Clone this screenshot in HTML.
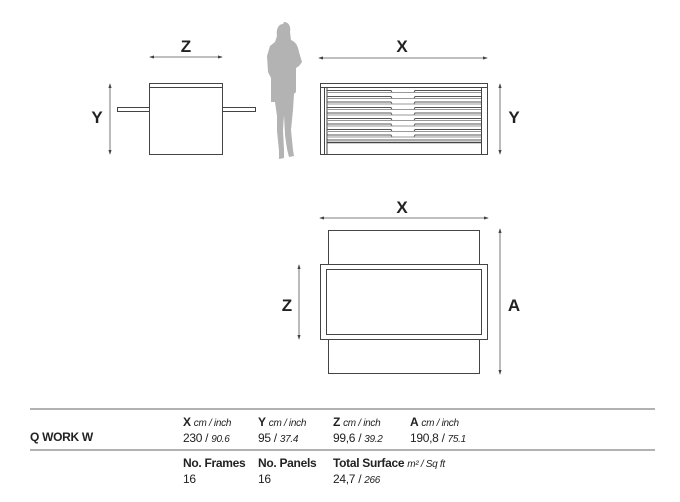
<!DOCTYPE html>
<html><head><meta charset="utf-8"><style>
body{margin:0;background:#fff;width:680px;height:502px;overflow:hidden;font-family:"Liberation Sans",sans-serif}
svg{position:absolute;left:0;top:0}
.t{position:absolute;font-size:12px;color:#222;white-space:nowrap;letter-spacing:-0.3px}
.i{font-style:italic;font-size:10px}
b{font-weight:bold}
</style></head><body>
<svg width="680" height="502" viewBox="0 0 680 502">
<defs><marker id="a" viewBox="0 0 6 4" refX="5" refY="2" markerWidth="6" markerHeight="4" orient="auto-start-reverse"><path d="M0,0L6,2L0,4z" fill="#444"/></marker></defs>
<g stroke="#555" stroke-width="0.8" fill="none">
<line x1="150" y1="57" x2="222" y2="57" marker-start="url(#a)" marker-end="url(#a)"/>
<line x1="110" y1="84" x2="110" y2="154" marker-start="url(#a)" marker-end="url(#a)"/>
<line x1="319" y1="58" x2="487" y2="58" marker-start="url(#a)" marker-end="url(#a)"/>
<line x1="500" y1="84" x2="500" y2="154" marker-start="url(#a)" marker-end="url(#a)"/>
<line x1="320" y1="218" x2="488" y2="218" marker-start="url(#a)" marker-end="url(#a)"/>
<line x1="500" y1="229" x2="500" y2="374" marker-start="url(#a)" marker-end="url(#a)"/>
<line x1="299" y1="265" x2="299" y2="339" marker-start="url(#a)" marker-end="url(#a)"/>
</g>
<g stroke="#444" stroke-width="1" fill="#fff">
<rect x="117.5" y="107.5" width="32" height="4"/>
<rect x="222.5" y="107.5" width="33" height="4"/>
<rect x="149.5" y="83.5" width="73" height="71"/>
<line x1="149.5" y1="87.5" x2="222.5" y2="87.5"/>
<rect x="320.5" y="83.5" width="167" height="71"/>
<line x1="320.5" y1="87.5" x2="487.5" y2="87.5"/>
<line x1="324.5" y1="87.5" x2="324.5" y2="154"/>
<line x1="327" y1="87.5" x2="327" y2="154"/>
<line x1="481.5" y1="87.5" x2="481.5" y2="154"/>
<line x1="327" y1="142.5" x2="481" y2="142.5" stroke-width="1.5"/>
</g>
<g stroke="#555" stroke-width="1" fill="none">
<path d="M327 90.5H391l1 2H414l1-2H481M327 96.5H391l1 2H414l1-2H481M327 102H391l1 2H414l1-2H481M327 107.5H391l1 2H414l1-2H481M327 113H391l1 2H414l1-2H481M327 118.5H391l1 2H414l1-2H481M327 124H391l1 2H414l1-2H481M327 129.5H391l1 2H414l1-2H481M327 135H391l1 2H414l1-2H481M327 140H481"/>
<path d="M327 92.5H481M327 98.5H481M327 104H481M327 109.5H481M327 115H481M327 120.5H481M327 126H481M327 131.5H481M327 137H481" stroke="#999"/>
</g>
<path fill="#b3b3b3" d="M284 22c5 0 7 5 6 10l1 8c5 2 7 6 8 12l3 10-3 4-3 2 0 24-2 2-1 16-2 20 2 20 1 6-5 1-2-8-2-14-1-20-1 15 1 20 0 8-5 1 0-8-2-20 0-15-2-14-4 0 0-24-3-6-1-16 3-10 5-4 2-6c-1-6 1-12 6-12z"/>
<g stroke="#444" stroke-width="1" fill="#fff">
<line x1="328.5" y1="230.5" x2="479.5" y2="230.5"/>
<line x1="328.5" y1="230" x2="328.5" y2="264"/>
<line x1="479.5" y1="230" x2="479.5" y2="264"/>
<line x1="328.5" y1="339" x2="328.5" y2="374"/>
<line x1="479.5" y1="339" x2="479.5" y2="374"/>
<line x1="328.5" y1="373.5" x2="479.5" y2="373.5"/>
<rect x="320.5" y="264.5" width="167" height="75"/>
<rect x="326.5" y="269.5" width="155" height="65"/>
</g>
<g stroke="#999" stroke-width="1.5">
<line x1="30" y1="409" x2="655" y2="409"/>
<line x1="30" y1="450" x2="655" y2="450"/>
</g>
<g font-family="Liberation Sans,sans-serif" font-weight="bold" font-size="17" fill="#222" text-anchor="middle">
<text x="186" y="52">Z</text><text x="402" y="52">X</text>
<text x="97" y="123">Y</text><text x="514" y="123">Y</text>
<text x="402" y="213">X</text><text x="287" y="311">Z</text><text x="514" y="311">A</text>
</g>
</svg>
<div class="t" style="left:30px;top:430px"><b>Q WORK W</b></div>
<div class="t" style="left:183px;top:415px"><b>X</b> <span class="i">cm / inch</span></div>
<div class="t" style="left:183px;top:431px">230 / <span class="i">90.6</span></div>
<div class="t" style="left:258px;top:415px"><b>Y</b> <span class="i">cm / inch</span></div>
<div class="t" style="left:258px;top:431px">95 / <span class="i">37.4</span></div>
<div class="t" style="left:333px;top:415px"><b>Z</b> <span class="i">cm / inch</span></div>
<div class="t" style="left:333px;top:431px">99,6 / <span class="i">39.2</span></div>
<div class="t" style="left:410px;top:415px"><b>A</b> <span class="i">cm / inch</span></div>
<div class="t" style="left:410px;top:431px">190,8 / <span class="i">75.1</span></div>
<div class="t" style="left:183px;top:456px"><b>No. Frames</b></div>
<div class="t" style="left:183px;top:472px">16</div>
<div class="t" style="left:258px;top:456px"><b>No. Panels</b></div>
<div class="t" style="left:258px;top:472px">16</div>
<div class="t" style="left:333px;top:456px"><b>Total Surface</b> <span class="i">m² / Sq ft</span></div>
<div class="t" style="left:333px;top:472px">24,7 / <span class="i">266</span></div>
</body></html>
